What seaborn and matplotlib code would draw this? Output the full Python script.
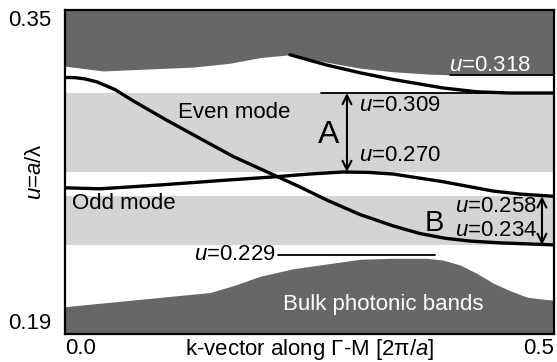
import matplotlib
matplotlib.use("Agg")
import matplotlib.pyplot as plt
import seaborn as sns
import numpy as np

# ---------------- data ----------------
even_k = [0.0, 0.0100, 0.0200, 0.0327, 0.0511, 0.0695, 0.1043, 0.138, 0.1718, 0.2127,
          0.2403, 0.2679, 0.3016, 0.3354, 0.363, 0.3886, 0.4141, 0.4448, 0.5]
even_u = [0.3167, 0.3166, 0.3160, 0.3145, 0.3107, 0.3052, 0.2955, 0.2866, 0.2777, 0.2687,
          0.2626, 0.2561, 0.2490, 0.2434, 0.2396, 0.2373, 0.2359, 0.2350, 0.2340]

odd_k = [0.0, 0.0358, 0.0971, 0.1656, 0.2168, 0.2500, 0.2843, 0.3100, 0.3354, 0.3865,
         0.4376, 0.4652, 0.5]
odd_u = [0.2622, 0.2617, 0.2636, 0.2660, 0.2677, 0.2690, 0.2700, 0.2698, 0.2690, 0.2652,
         0.2606, 0.2591, 0.2580]

upper_k = [0.230, 0.2679, 0.3016, 0.3354, 0.3865, 0.4213, 0.455, 0.5]
upper_u = [0.3279, 0.3228, 0.3190, 0.3157, 0.3115, 0.3096, 0.3090, 0.3090]

bulk_top_k = [0.0, 0.0389, 0.0869, 0.1309, 0.1687, 0.1994, 0.230, 0.2679, 0.3016,
              0.3354, 0.3732, 0.3937, 0.5]
bulk_top_u = [0.3223, 0.3199, 0.3209, 0.3218, 0.3237, 0.3265, 0.3279, 0.3242, 0.3213,
              0.3195, 0.3183, 0.3180, 0.3180]

bulk_bot_k = [0.0, 0.1483, 0.1718, 0.1994, 0.2331, 0.2679, 0.3016, 0.3354, 0.3702,
              0.3865, 0.4039, 0.4213, 0.4376, 0.455, 0.4724, 0.4888, 0.5]
bulk_bot_u = [0.2035, 0.2105, 0.2138, 0.2185, 0.2222, 0.2246, 0.2269, 0.2274, 0.2274,
              0.2265, 0.2241, 0.2199, 0.2152, 0.2114, 0.2082, 0.2072, 0.2067]

gap_A = [0.270, 0.309]
gap_B = [0.234, 0.258]
u_318 = 0.318
u_229 = 0.229

x_ticks = [0.0, 0.5]
x_ticklabels = ["0.0", "0.5"]
y_ticks = [0.19, 0.35]
y_ticklabels = ["0.19", "0.35"]

# ---------------- style ----------------
sns.set_theme(style="white")
plt.rcParams['font.family'] = ['Liberation Sans', 'DejaVu Sans']
plt.rcParams['mathtext.fontset'] = 'custom'
plt.rcParams['mathtext.it'] = 'Liberation Sans:italic'
plt.rcParams['mathtext.rm'] = 'Liberation Sans'
plt.rcParams['text.color'] = 'black'
plt.rcParams['axes.labelcolor'] = 'black'
plt.rcParams['xtick.color'] = 'black'
plt.rcParams['ytick.color'] = 'black'

DARK = '#676767'
LIGHT = '#d4d4d4'
FS = 16

fig = plt.figure(figsize=(5.57, 3.62), dpi=100)
ax = fig.add_axes([65/557, 1-334/362, 489/557, 324/362])
ax.set_xlim(0, 0.5)
ax.set_ylim(0.19, 0.35)

# gap bands
ax.axhspan(gap_A[0], gap_A[1], color=LIGHT, lw=0, zorder=1)
ax.axhspan(gap_B[0], gap_B[1], color=LIGHT, lw=0, zorder=1)

# bulk bands
ax.fill_between(bulk_top_k, bulk_top_u, 0.35, color=DARK, lw=0, zorder=2)
ax.fill_between(bulk_bot_k, 0.19, bulk_bot_u, color=DARK, lw=0, zorder=2)

# mode curves
for kk, uu in [(even_k, even_u), (odd_k, odd_u), (upper_k, upper_u)]:
    sns.lineplot(x=kk, y=uu, ax=ax, color='black', lw=2.4, estimator=None,
                 sort=False, zorder=4)

# reference lines
ax.plot([0.3937, 0.5], [u_318, u_318], color='black', lw=1.3, zorder=3)
ax.plot([0.2618, 0.5], [gap_A[1], gap_A[1]], color='black', lw=1.3, zorder=3)
ax.plot([0.2178, 0.3783], [u_229, u_229], color='black', lw=1.3, zorder=3)

# arrows
ax.annotate('', xy=(0.2883, gap_A[1]), xytext=(0.2883, gap_A[0]),
            arrowprops=dict(arrowstyle='<->', color='black', lw=1.5,
                            mutation_scale=16, shrinkA=0, shrinkB=0), zorder=5)
ax.annotate('', xy=(0.4877, gap_B[1]), xytext=(0.4877, gap_B[0]),
            arrowprops=dict(arrowstyle='<->', color='black', lw=1.5,
                            mutation_scale=16, shrinkA=0, shrinkB=0), zorder=5)

# texts
ax.text(0.1155, 0.2993, "Even mode", fontsize=FS, ha='left', va='center', zorder=6)
ax.text(0.0072, 0.2542, "Odd mode", fontsize=FS, ha='left', va='center', zorder=6)
ax.text(0.216, u_229 + 0.0003, "$u$=0.229", fontsize=FS, ha='right', va='center', zorder=6)
ax.text(0.325, 0.2044, "Bulk photonic bands", fontsize=FS, ha='center', va='center',
        color='white', zorder=6)
ax.text(0.3926, 0.3228, "$u$=0.318", fontsize=FS, ha='left', va='center',
        color='white', zorder=6)
ax.text(0.270, 0.2885, "A", fontsize=23, ha='center', va='center', zorder=6)
ax.text(0.3006, 0.3026, "$u$=0.309", fontsize=FS, ha='left', va='center', zorder=6)
ax.text(0.3006, 0.2781, "$u$=0.270", fontsize=FS, ha='left', va='center', zorder=6)
ax.text(0.3773, 0.2448, "B", fontsize=21, ha='center', va='center', zorder=6)
ax.text(0.4826, 0.2528, "$u$=0.258", fontsize=FS, ha='right', va='center', zorder=6)
ax.text(0.4826, 0.2410, "$u$=0.234", fontsize=FS, ha='right', va='center', zorder=6)

# axes
ax.set_xticks(x_ticks)
ax.set_xticklabels(x_ticklabels, fontsize=FS)
ax.set_yticks(y_ticks)
ax.set_yticklabels(y_ticklabels, fontsize=FS)
xl = ax.get_xticklabels()
xl[0].set_ha('left'); xl[1].set_ha('right')
yl = ax.get_yticklabels()
yl[0].set_va('bottom'); yl[1].set_va('top')
ax.tick_params(axis='x', length=0, pad=3)
ax.tick_params(axis='y', length=0, pad=10)

ax.set_xlabel("k-vector along Γ-M [2π/$a$]", fontsize=FS)
ax.xaxis.set_label_coords(0.501, -0.010)
ax.set_ylabel("$u$=$a$/λ", fontsize=FS)
ax.yaxis.set_label_coords(-0.038, 0.5)

for s in ax.spines.values():
    s.set_visible(True)
    s.set_color('black')
    s.set_linewidth(1.6)
    s.set_zorder(7)

fig.savefig("out.png", dpi=100)
